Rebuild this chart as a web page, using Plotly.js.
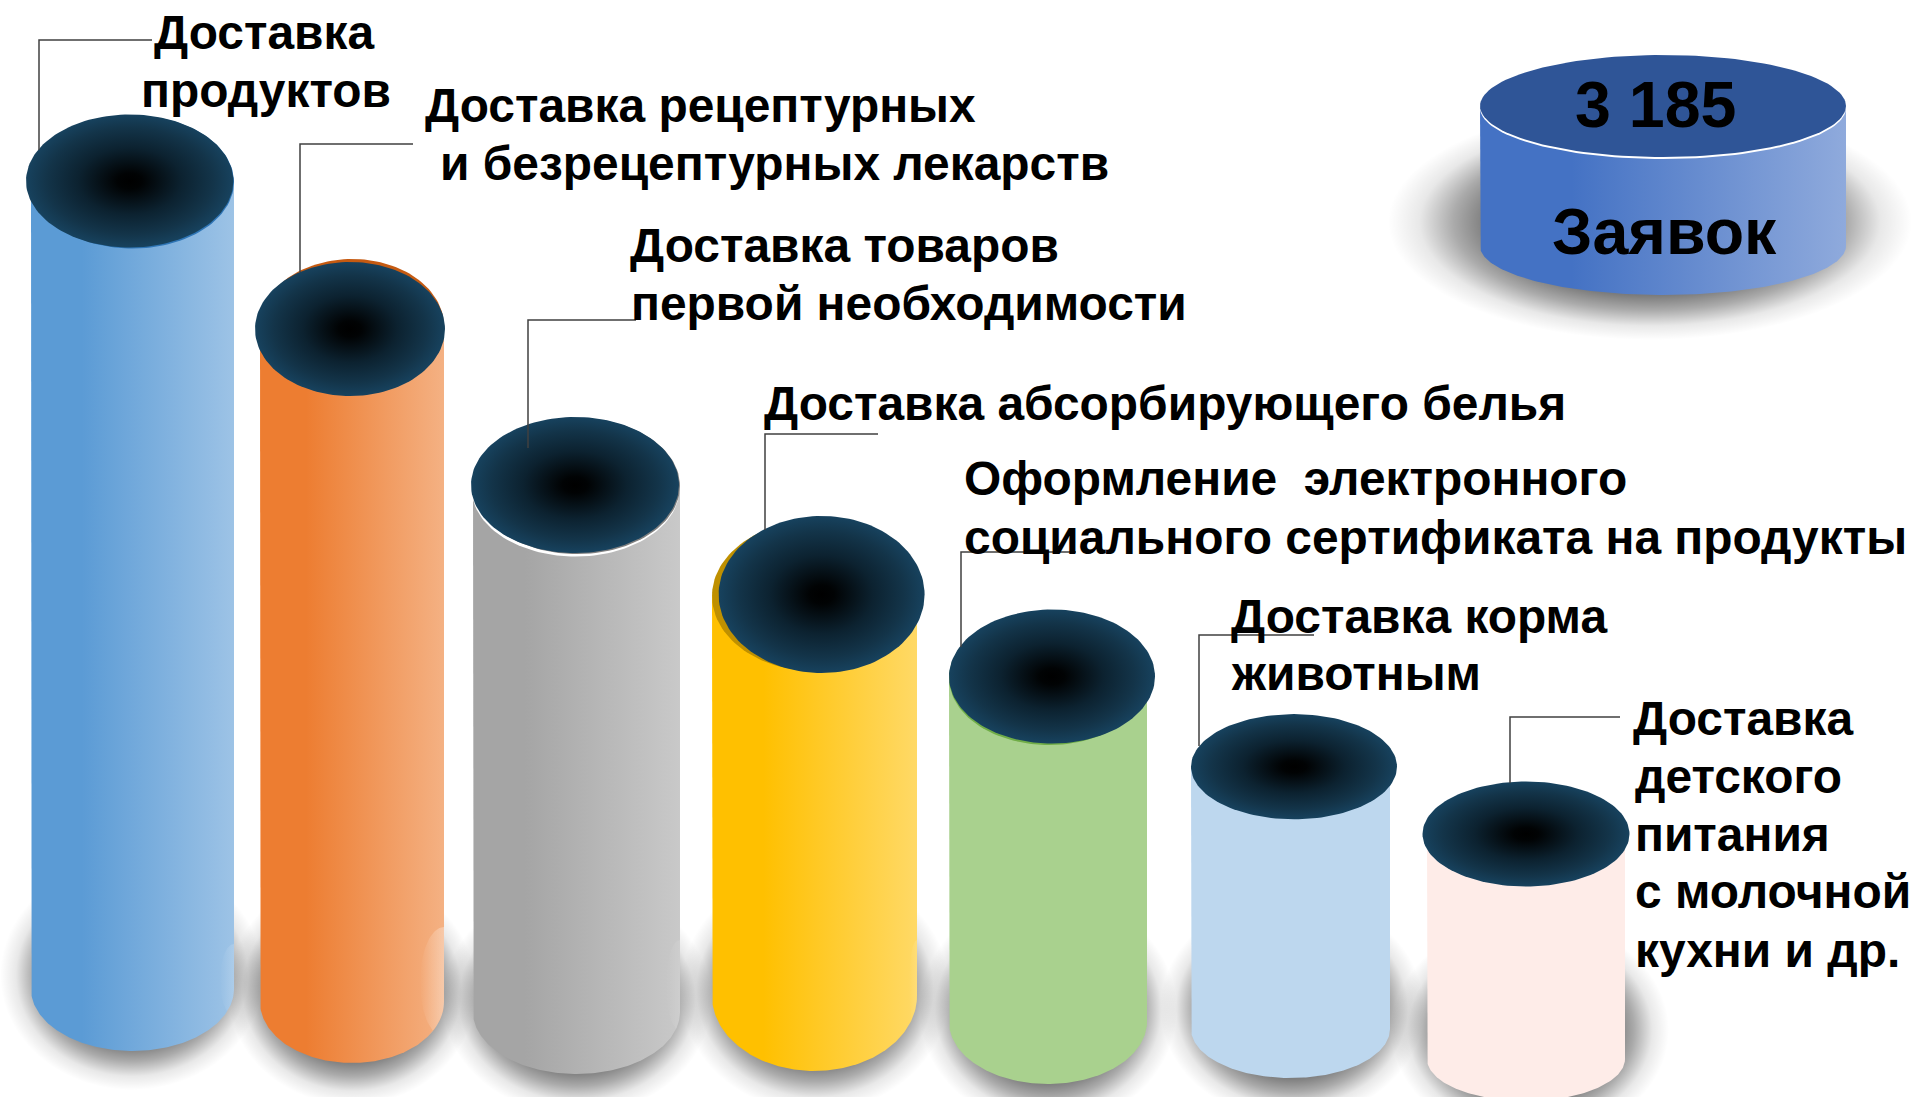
<!DOCTYPE html>
<html><head><meta charset="utf-8">
<script src="https://cdn.plot.ly/plotly-3.0.1.min.js"></script>
<style>html,body{margin:0;padding:0;background:#fff;overflow:hidden}#c{width:1917px;height:1097px}</style>
</head><body><div id="c"></div>
<script>
// ---- data ----
const categories = ["Доставка продуктов","Доставка рецептурных и безрецептурных лекарств","Доставка товаров первой необходимости","Доставка абсорбирующего белья","Оформление электронного социального сертификата на продукты","Доставка корма животным","Доставка детского питания с молочной кухни и др."];
const values = [808, 673, 527, 401.5, 345.5, 262.3, 225];
const totalLabel = "3 185";
const totalCaption = "Заявок";

// ---- layout of the drawing ----
const baseY   = [989, 1002, 1012, 996, 1022, 1029, 1059];
const bodyL   = [31, 260, 473, 712, 949, 1191, 1427];
const bodyR   = [234, 444, 680, 917, 1147, 1390, 1625];
const bottomR = [62, 61, 62, 75, 62, 49, 42];
const capX    = [129.7, 350, 575, 821.6, 1052, 1294, 1526];
const capRx   = [103.7, 95, 104, 103, 103, 103, 103.5];
const capRy   = [66.5, 67, 68, 78.5, 67, 52.6, 52.5];
const colorL  = ["#5B9BD5","#ED7D31","#A5A5A5","#FFC000","#A9D18E","#BDD7EE","#FEECE8"];
const colorR  = ["#9DC3E6","#F4B183","#C9C9C9","#FFD966","#A9D18E","#BDD7EE","#FEECE8"];
const shadowX = [132, 352, 577, 815, 1048, 1292, 1530];
const shadowY = [975, 990, 1000, 990, 1010, 1008, 1030];
const shadowRx= [132, 125, 135, 135, 129, 132, 139];
const shadowRy= [115, 115, 115, 122, 117, 112, 112];
// pale reflections near the lower right edge of some columns: column, half height, centre y, width, strength
const glints = [[0,36,980,14,0.16],[1,55,982,24,0.32],[2,45,985,14,0.1],[3,45,985,8,0.12]];
// ellipses seen as thin rims behind the dark caps: cx, cy, rx, ry, colour
const rims = [
 [132.5,182,101.5,66.5,"#2E75B6"],
 [352,326,92,67,"#C55A11"],
 [575.5,488.5,104,68,"#FFFFFF"],
 [577,486,103,68,"#7F7F7F"],
 [814.5,596,102.5,75,"#BF9000"],
 [1049,678,100,67,"#70AD47"]
];
const leaders = [
 [[152,40],[39,40],[39,150]],
 [[413,144],[300,144],[300,272]],
 [[636,320],[528,320],[528,448]],
 [[878,434],[765,434],[765,530]],
 [[1076,552],[961,552],[961,647]],
 [[1314,635],[1199,635],[1199,746]],
 [[1620,717],[1510,717],[1510,783]]
];
const labelLines = [
 ["Доставка",152,32],["продуктов",139,90],
 ["Доставка рецептурных",423,105],["и безрецептурных лекарств",438,163],
 ["Доставка товаров",628,245],["первой необходимости",629,303],
 ["Доставка абсорбирующего белья",762,403],
 ["Оформление  электронного",962,478],["социального сертификата на продукты",962,537],
 ["Доставка корма",1229,616],["животным",1229,673],
 ["Доставка",1631,718],["детского",1633,776],["питания",1633,834],["с молочной",1633,891],["кухни и др.",1633,950]
];
const FONT = "Liberation Sans, Arial, sans-serif";
const N = 140;

function ellipse(cx,cy,rx,ry){
  const x=[],y=[];
  for(let i=0;i<=N;i++){const t=2*Math.PI*i/N;x.push(cx+rx*Math.cos(t));y.push(cy+ry*Math.sin(t));}
  return {x,y};
}
function base(o){return Object.assign({type:'scatter',mode:'lines',line:{width:0},fill:'toself',hoverinfo:'skip',showlegend:false},o);}
function shadowTrace(cx,cy,rx,ry){
  return base(Object.assign(ellipse(cx,cy,rx,ry),{fillcolor:'rgba(0,0,0,0)',fillgradient:{type:'radial',colorscale:[[0,'rgba(0,0,0,0.52)'],[0.62,'rgba(0,0,0,0.52)'],[0.75,'rgba(0,0,0,0.33)'],[0.88,'rgba(0,0,0,0.09)'],[1,'rgba(0,0,0,0)']]}}));
}
function bodyTrace(l,r,top,bot,ry,c1,c2){
  const cx=(l+r)/2,rx=(r-l)/2,x=[l],y=[top];
  for(let i=0;i<=N;i++){const t=Math.PI*i/N;x.push(cx-rx*Math.cos(t));y.push(bot+ry*Math.sin(t));}
  x.push(r);y.push(top);x.push(l);y.push(top);
  const o={x,y,fillcolor:c1};
  if(c1!==c2) o.fillgradient={type:'horizontal',start:l,stop:r,colorscale:[[0,c1],[0.25,c1],[1,c2]]};
  return base(o);
}
function glintTrace(g){
  const i=g[0],hh=g[1],cy=g[2],w=g[3],a=g[4],r=bodyR[i],l=bodyL[i],rad=(r-l)/2,cx=(l+r)/2;
  const x=[],y=[];
  for(let k=0;k<=60;k++){
    const t=Math.PI*k/60,py=cy-hh*Math.cos(t);
    let edge=r;
    if(py>baseY[i]){const d=(py-baseY[i])/bottomR[i];edge=cx+rad*Math.sqrt(Math.max(0,1-d*d));}
    x.push(Math.min(edge,r-w*Math.sin(t)));y.push(py);
  }
  for(let k=60;k>=0;k--){
    const py=cy-hh*Math.cos(Math.PI*k/60);
    let edge=r;
    if(py>baseY[i]){const d=(py-baseY[i])/bottomR[i];edge=cx+rad*Math.sqrt(Math.max(0,1-d*d));}
    x.push(edge);y.push(py);
  }
  return base({x,y,fillcolor:'rgba(255,255,255,0)',fillgradient:{type:'horizontal',start:r-w,stop:r,colorscale:[[0,'rgba(255,255,255,0)'],[1,'rgba(255,255,255,'+a+')']]}});
}
const capScale=[[0,'#000000'],[0.12,'#010304'],[0.5,'#0C2230'],[0.8,'#133449'],[1,'#17425E']];

const traces=[];
// panel cylinder shadow
traces.push(shadowTrace(1650,222,262,118));
// column shadows
categories.forEach((c,i)=>traces.push(shadowTrace(shadowX[i],shadowY[i],shadowRx[i],shadowRy[i])));
// bodies
categories.forEach((c,i)=>traces.push(bodyTrace(bodyL[i],bodyR[i],baseY[i]-values[i],baseY[i],bottomR[i],colorL[i],colorR[i])));
glints.forEach(g=>traces.push(glintTrace(g)));
// rims
rims.forEach(r=>traces.push(base(Object.assign(ellipse(r[0],r[1],r[2],r[3]),{fillcolor:r[4]}))));
// caps
categories.forEach((c,i)=>traces.push(base(Object.assign(ellipse(capX[i],baseY[i]-values[i],capRx[i],capRy[i]),{fillcolor:'#17425E',fillgradient:{type:'radial',colorscale:capScale}}))));
// total panel
traces.push(bodyTrace(1480,1846,106,246,49,'#4472C4','#8FAADC'));
traces.push(base(Object.assign(ellipse(1663,108,183,51),{fillcolor:'#FFFFFF'})));
traces.push(base(Object.assign(ellipse(1663,106,183,51),{fillcolor:'#2F5597'})));
// leader lines
leaders.forEach(p=>traces.push({type:'scatter',mode:'lines',x:p.map(q=>q[0]),y:p.map(q=>q[1]),line:{color:'#404040',width:1.5},hoverinfo:'skip',showlegend:false}));

const annotations=labelLines.map(l=>({text:l[0],x:l[1],y:l[2],xref:'x',yref:'y',xanchor:'left',yanchor:'middle',showarrow:false,align:'left',font:{family:FONT,size:47.9,color:'#000',weight:700}}));
annotations.push({text:totalLabel,x:1655,y:105,xref:'x',yref:'y',xanchor:'center',yanchor:'middle',showarrow:false,font:{family:FONT,size:64.5,color:'#000',weight:700}});
annotations.push({text:totalCaption,x:1664,y:232,xref:'x',yref:'y',xanchor:'center',yanchor:'middle',showarrow:false,font:{family:FONT,size:64.5,color:'#000',weight:700}});

Plotly.newPlot('c',traces,{
  width:1917,height:1097,margin:{l:0,r:0,t:0,b:0},paper_bgcolor:'#fff',plot_bgcolor:'#fff',showlegend:false,
  xaxis:{range:[0,1917],visible:false,fixedrange:true},
  yaxis:{range:[1097,0],visible:false,fixedrange:true},
  annotations
},{displayModeBar:false,staticPlot:true});
</script></body></html>
